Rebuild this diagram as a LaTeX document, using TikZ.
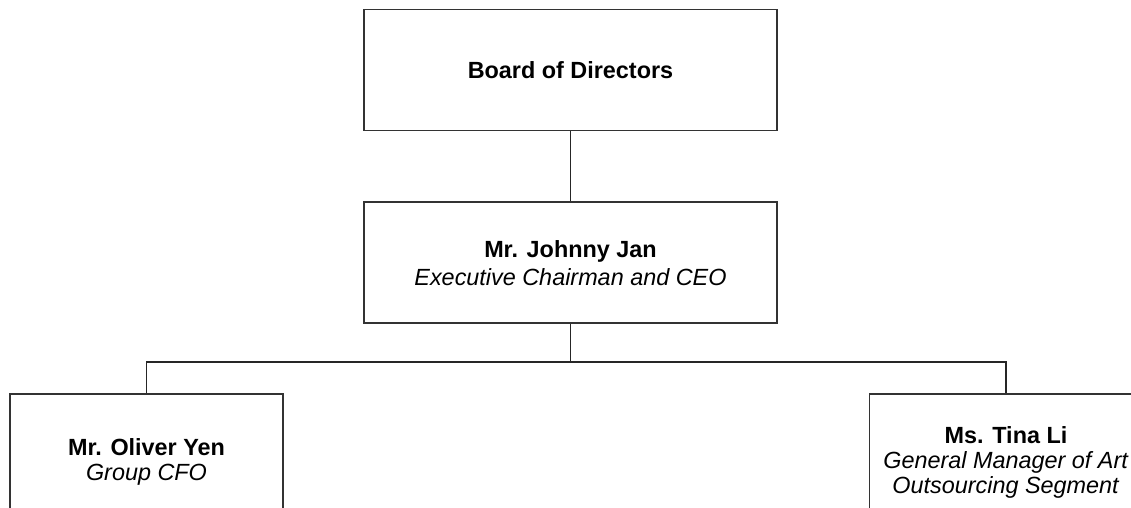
\documentclass[tikz,border=0pt]{standalone}
\usepackage{fontspec}
\setmainfont{Liberation Sans}
\usepackage{tikz}
\usetikzlibrary{positioning,calc}
\newcommand{\orgfont}{\fontsize{11.7pt}{12.5pt}\selectfont}

\begin{document}
\begin{tikzpicture}[
    x=0.5pt, y=-0.5pt,
    node distance=35pt,
    box/.style={rectangle, draw=black!80, line width=0.95pt, minimum width=206.5pt, minimum height=60.5pt, align=center, font=\orgfont, inner sep=0pt},
    sub_box/.style={box, minimum width=136.5pt, minimum height=68pt},
    line/.style={draw=black!85, line width=0.95pt}
]

% Page frame
\path[use as bounding box, clip] (0,0) rectangle (1131,508);

% Nodes
\node[box] (board) at (570.5,70) {\textbf{Board of Directors}};
\node[box, below=of board] (ceo) {\textbf{Mr. Johnny Jan}\\[1.5pt]\textit{Executive Chairman and CEO}};

\node[sub_box] (cfo) at (146.5,462) {\textbf{Mr. Oliver Yen}\\\textit{Group CFO}};
\node[sub_box] (gm) at (1006,462) {\textbf{Ms. Tina Li}\\\textit{General Manager of Art}\\\textit{Outsourcing Segment}};

\coordinate[below=19pt of ceo] (bus);

% Connections
\path[line] (board.south) -- (ceo.north);
\path[line] (ceo.south) -- (bus);
\path[line] (bus) -| (cfo.north);
\path[line] (bus) -| (gm.north);

\end{tikzpicture}
\end{document}
